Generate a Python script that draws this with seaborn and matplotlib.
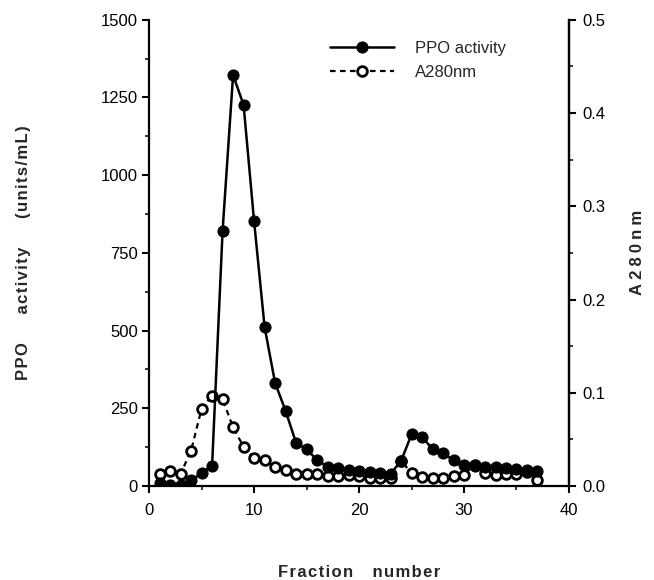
import matplotlib
matplotlib.use("Agg")
import matplotlib.pyplot as plt
import seaborn as sns
import pandas as pd
from matplotlib.ticker import MultipleLocator

fractions = list(range(1, 38))
ppo_activity = [10, 3, 3, 19, 41, 66, 821, 1322, 1226, 852, 512, 332, 242, 139, 118,
                84, 62, 57, 52, 48, 45, 42, 40, 80, 166, 158, 119, 106, 83, 67,
                65, 62, 60, 57, 55, 52, 48]
a280 = [0.013, 0.016, 0.013, 0.038, 0.083, 0.097, 0.093, 0.063, 0.042, 0.030,
        0.028, 0.020, 0.017, 0.013, 0.013, 0.013, 0.011, 0.011, 0.012, 0.011,
        0.009, 0.009, 0.009, 0.027, 0.014, 0.010, 0.009, 0.009, 0.011, 0.012,
        0.023, 0.014, 0.012, 0.013, 0.013, 0.015, 0.006]
left_ticks = [0, 250, 500, 750, 1000, 1250, 1500]
right_ticks = [0.0, 0.1, 0.2, 0.3, 0.4, 0.5]
x_ticks = [0, 10, 20, 30, 40]

df = pd.DataFrame({"fraction": fractions, "ppo": ppo_activity, "a280": a280})

sns.set_style("ticks")
FAM = ["Liberation Sans", "DejaVu Sans"]
plt.rcParams["font.family"] = FAM


def track(text, word_gap=3, n=1):
    hs = "\u200a" * n
    words = text.split(" ")
    return (hs * 2 + " " * word_gap + hs * 2).join(hs.join(w) for w in words)


fig = plt.figure(figsize=(6.54, 5.80), dpi=100)
ax = fig.add_axes([0.228, 0.162, 0.642, 0.804])
ax2 = ax.twinx()

sns.lineplot(data=df, x="fraction", y="a280", ax=ax2, color="black",
             linestyle=(0, (2.5, 2)), linewidth=1.6, marker="o", markersize=7,
             markerfacecolor="white", markeredgecolor="black", markeredgewidth=2,
             label="A280nm", legend=False, zorder=2)
sns.lineplot(data=df, x="fraction", y="ppo", ax=ax, color="black",
             linewidth=1.8, marker="o", markersize=8,
             markerfacecolor="black", markeredgecolor="black",
             label="PPO activity", legend=False, zorder=3)

ax.set_zorder(ax2.get_zorder() + 1)
ax.patch.set_visible(False)

ax.set_xlim(0, 40)
ax.set_ylim(0, 1500)
ax2.set_ylim(0, 0.5)
ax.set_xticks(x_ticks)
ax.set_yticks(left_ticks)
ax2.set_yticks(right_ticks)
ax2.set_yticklabels([f"{v:.1f}" for v in right_ticks])
ax.xaxis.set_minor_locator(MultipleLocator(5))
ax.yaxis.set_minor_locator(MultipleLocator(125))
ax2.yaxis.set_minor_locator(MultipleLocator(0.05))

for a in (ax, ax2):
    a.spines["top"].set_visible(False)
    for s in a.spines.values():
        s.set_linewidth(1.6)
        s.set_color("black")
    a.tick_params(which="major", length=5, width=1.5, labelsize=12, colors="black")
    a.tick_params(which="minor", length=3, width=1.3)
ax2.spines["left"].set_visible(False)
ax2.spines["bottom"].set_visible(False)
ax.tick_params(axis="x", which="major", pad=7)
ax.tick_params(axis="y", which="major", pad=3)
ax2.tick_params(axis="y", which="major", pad=5)

lab_kw = dict(fontsize=12, fontweight="bold", family=FAM)
ax.set_xlabel(track("Fraction number"), labelpad=34, **lab_kw)
ax.set_ylabel(track("PPO activity (units/mL)", word_gap=5), labelpad=50, **lab_kw)
ax2.set_ylabel(track("A280nm", n=3), labelpad=17, **lab_kw)

h1, l1 = ax.get_legend_handles_labels()
h2, l2 = ax2.get_legend_handles_labels()
leg = fig.legend(h1 + h2, l1 + l2, loc="upper left", bbox_to_anchor=(0.505, 0.93),
                 frameon=False, fontsize=12, handlelength=3.8, handletextpad=1.3,
                 labelspacing=0.55, borderpad=0, borderaxespad=0)

fig.savefig("out.png", dpi=100)
